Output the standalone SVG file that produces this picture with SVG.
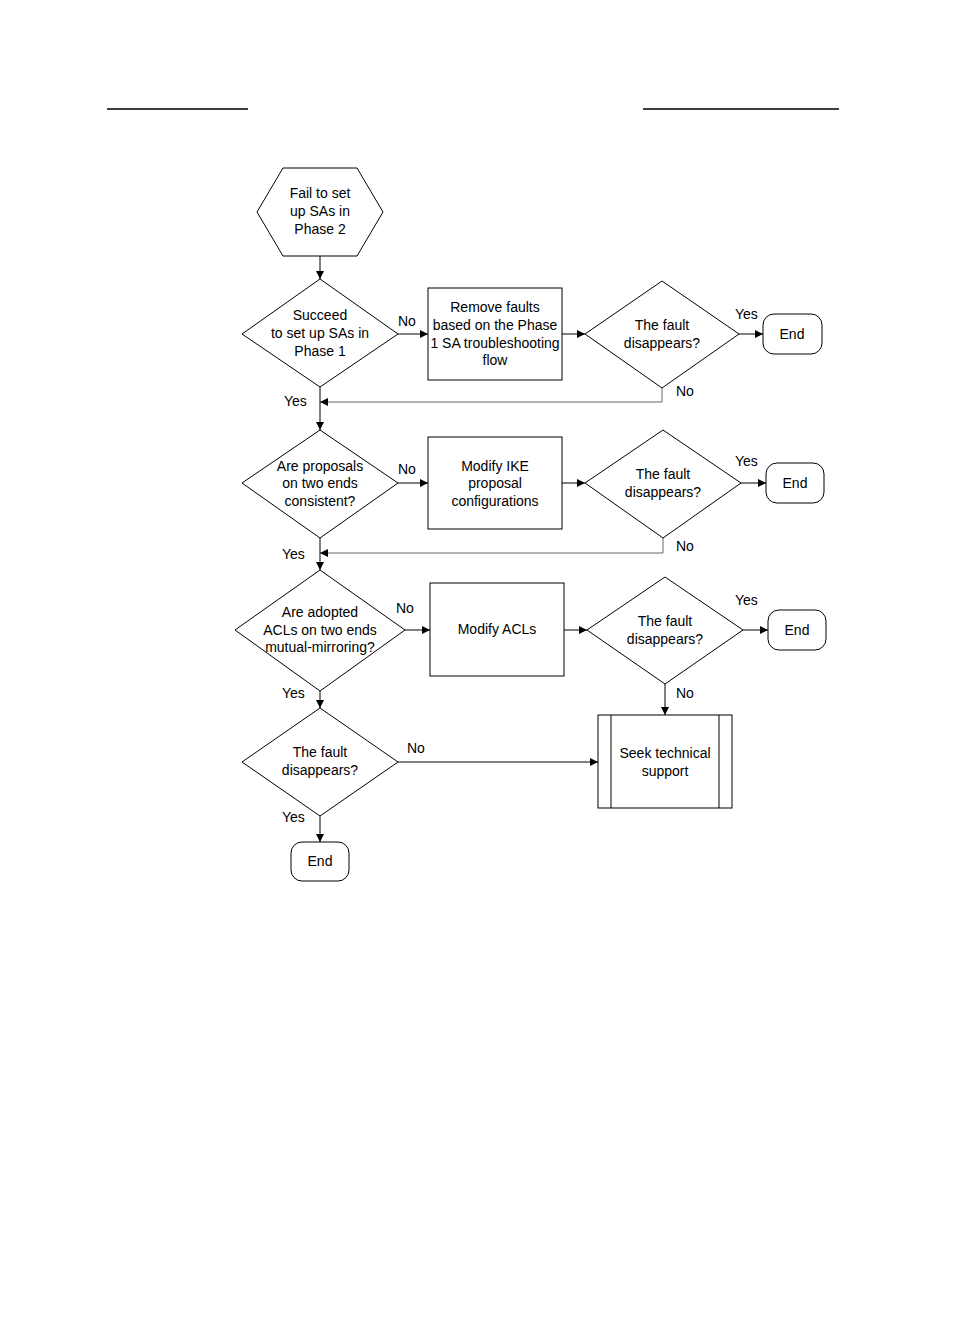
<svg xmlns="http://www.w3.org/2000/svg" width="954" height="1323" viewBox="0 0 954 1323">
<defs>
<marker id="ah" viewBox="0 0 10 10" refX="10" refY="5" markerWidth="10" markerHeight="8" markerUnits="userSpaceOnUse" orient="auto">
<path d="M0,0 L10,5 L0,10 z" fill="#000"/>
</marker>
</defs>
<style>
.s{fill:#fff;stroke:#000;stroke-width:1}
.t{font-family:"Liberation Sans",Arial,sans-serif;font-size:14px;fill:#000;text-anchor:middle}
.l{font-family:"Liberation Sans",Arial,sans-serif;font-size:14px;fill:#000}
.c{fill:none;stroke:#000;stroke-width:1}
.g{fill:none;stroke:#666;stroke-width:1}
</style>
<rect width="954" height="1323" fill="#fff"/>
<line x1="107" y1="109" x2="248" y2="109" stroke="#000" stroke-width="1.3"/>
<line x1="643" y1="109" x2="839" y2="109" stroke="#000" stroke-width="1.3"/>

<g id="connectors">
<line class="c" x1="320" y1="256" x2="320" y2="279" marker-end="url(#ah)"/>
<line class="c" x1="398" y1="334" x2="428" y2="334" marker-end="url(#ah)"/>
<line class="c" x1="562" y1="334" x2="585" y2="334" marker-end="url(#ah)"/>
<line class="c" x1="739" y1="334" x2="763" y2="334" marker-end="url(#ah)"/>
<polyline class="g" points="662,388 662,402 320,402" marker-end="url(#ah)"/>
<line class="c" x1="320" y1="387" x2="320" y2="430" marker-end="url(#ah)"/>
<line class="c" x1="398" y1="483" x2="428" y2="483" marker-end="url(#ah)"/>
<line class="c" x1="562" y1="483" x2="585" y2="483" marker-end="url(#ah)"/>
<line class="c" x1="741" y1="483" x2="766" y2="483" marker-end="url(#ah)"/>
<polyline class="g" points="663,538 663,553 320,553" marker-end="url(#ah)"/>
<line class="c" x1="320" y1="538" x2="320" y2="570" marker-end="url(#ah)"/>
<line class="c" x1="405" y1="630" x2="430" y2="630" marker-end="url(#ah)"/>
<line class="c" x1="564" y1="630" x2="587" y2="630" marker-end="url(#ah)"/>
<line class="c" x1="743" y1="630" x2="768" y2="630" marker-end="url(#ah)"/>
<line class="c" x1="665" y1="684" x2="665" y2="715" marker-end="url(#ah)"/>
<line class="c" x1="320" y1="691" x2="320" y2="708" marker-end="url(#ah)"/>
<line class="c" x1="398" y1="762" x2="598" y2="762" marker-end="url(#ah)"/>
<line class="c" x1="320" y1="816" x2="320" y2="842" marker-end="url(#ah)"/>
<text class="l" x="398" y="326">No</text>
<text class="l" x="284" y="406">Yes</text>
<text class="l" x="735" y="319">Yes</text>
<text class="l" x="676" y="396">No</text>
<text class="l" x="398" y="474">No</text>
<text class="l" x="282" y="559">Yes</text>
<text class="l" x="735" y="466">Yes</text>
<text class="l" x="676" y="551">No</text>
<text class="l" x="396" y="613">No</text>
<text class="l" x="282" y="698">Yes</text>
<text class="l" x="735" y="605">Yes</text>
<text class="l" x="676" y="698">No</text>
<text class="l" x="407" y="753">No</text>
<text class="l" x="282" y="822">Yes</text>
</g>

<g id="start">
<polygon class="s" points="283,168 357,168 383,212 357,256 283,256 257,212"/>
<text class="t" x="320" y="198">Fail to set</text>
<text class="t" x="320" y="216">up SAs in</text>
<text class="t" x="320" y="234">Phase 2</text>
</g>

<g id="d1">
<polygon class="s" points="320,279 398,334 320,387 242,334"/>
<text class="t" x="320" y="320">Succeed</text>
<text class="t" x="320" y="338">to set up SAs in</text>
<text class="t" x="320" y="356">Phase 1</text>
</g>
<g id="b1">
<rect class="s" x="428" y="288" width="134" height="92"/>
<text class="t" x="495" y="312">Remove faults</text>
<text class="t" x="495" y="330">based on the Phase</text>
<text class="t" x="495" y="348">1 SA troubleshooting</text>
<text class="t" x="495" y="365">flow</text>
</g>
<g id="d2">
<polygon class="s" points="662,281 739,334 662,388 585,334"/>
<text class="t" x="662" y="330">The fault</text>
<text class="t" x="662" y="348">disappears?</text>
</g>
<g id="e1">
<rect class="s" x="763" y="314" width="59" height="40" rx="11"/>
<text class="t" x="792" y="339">End</text>
</g>

<g id="d3">
<polygon class="s" points="320,430 398,483 320,538 242,483"/>
<text class="t" x="320" y="471">Are proposals</text>
<text class="t" x="320" y="488">on two ends</text>
<text class="t" x="320" y="506">consistent?</text>
</g>
<g id="b2">
<rect class="s" x="428" y="437" width="134" height="92"/>
<text class="t" x="495" y="471">Modify IKE</text>
<text class="t" x="495" y="488">proposal</text>
<text class="t" x="495" y="506">configurations</text>
</g>
<g id="d4">
<polygon class="s" points="663,430 741,483 663,538 585,483"/>
<text class="t" x="663" y="479">The fault</text>
<text class="t" x="663" y="497">disappears?</text>
</g>
<g id="e2">
<rect class="s" x="766" y="463" width="58" height="40" rx="11"/>
<text class="t" x="795" y="488">End</text>
</g>

<g id="d5">
<polygon class="s" points="320,570 405,630 320,691 235,630"/>
<text class="t" x="320" y="617">Are adopted</text>
<text class="t" x="320" y="635">ACLs on two ends</text>
<text class="t" x="320" y="652">mutual-mirroring?</text>
</g>
<g id="b3">
<rect class="s" x="430" y="583" width="134" height="93"/>
<text class="t" x="497" y="634">Modify ACLs</text>
</g>
<g id="d6">
<polygon class="s" points="665,577 743,630 665,684 587,630"/>
<text class="t" x="665" y="626">The fault</text>
<text class="t" x="665" y="644">disappears?</text>
</g>
<g id="e3">
<rect class="s" x="768" y="610" width="58" height="40" rx="11"/>
<text class="t" x="797" y="635">End</text>
</g>

<g id="d7">
<polygon class="s" points="320,708 398,762 320,816 242,762"/>
<text class="t" x="320" y="757">The fault</text>
<text class="t" x="320" y="775">disappears?</text>
</g>
<g id="seek">
<rect class="s" x="598" y="715" width="134" height="93"/>
<line class="c" x1="611" y1="715" x2="611" y2="808"/>
<line class="c" x1="719" y1="715" x2="719" y2="808"/>
<text class="t" x="665" y="758">Seek technical</text>
<text class="t" x="665" y="776">support</text>
</g>
<g id="e4">
<rect class="s" x="291" y="842" width="58" height="39" rx="11"/>
<text class="t" x="320" y="866">End</text>
</g>
</svg>
